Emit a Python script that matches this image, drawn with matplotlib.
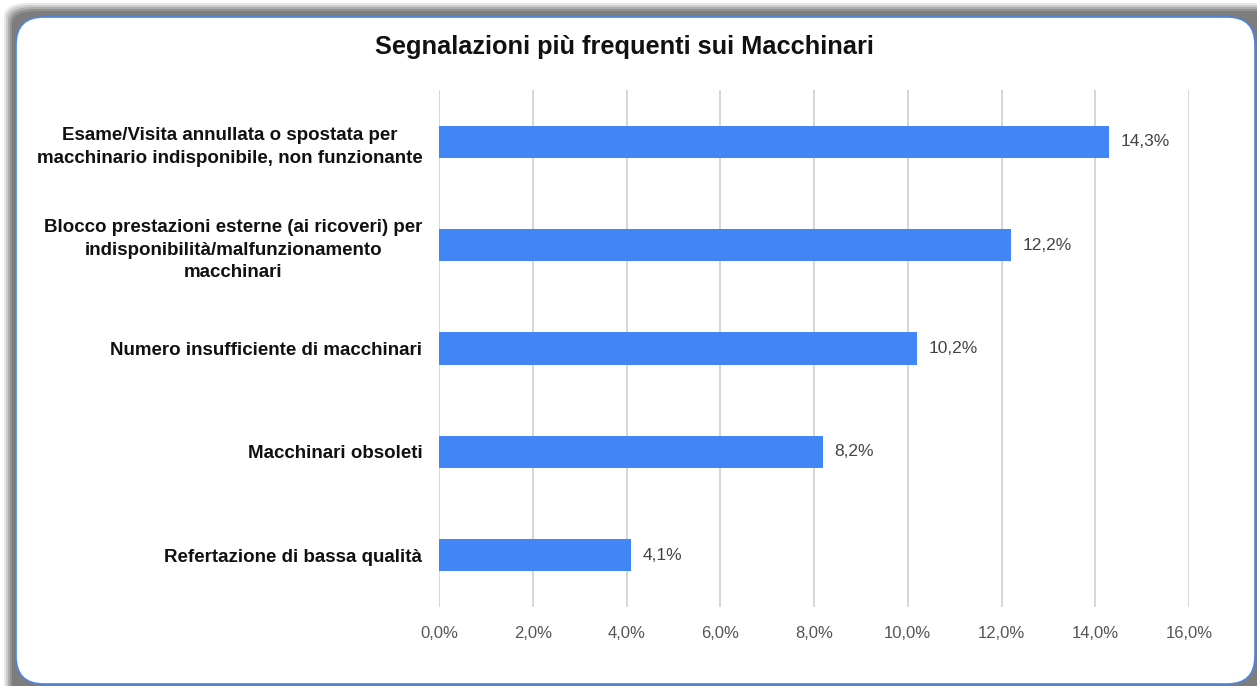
import matplotlib.pyplot as plt
from matplotlib.patches import FancyBboxPatch
from matplotlib.ticker import FuncFormatter

# dati
categorie = [
    "Esame/Visita annullata o spostata per\nmacchinario indisponibile, non funzionante",
    "Blocco prestazioni esterne (ai ricoveri) per\nindisponibilità/malfunzionamento\nmacchinari",
    "Numero insufficiente di macchinari",
    "Macchinari obsoleti",
    "Refertazione di bassa qualità",
]
valori = [14.3, 12.2, 10.2, 8.2, 4.1]
etichette = ["14,3%", "12,2%", "10,2%", "8,2%", "4,1%"]
tick_x = [0, 2, 4, 6, 8, 10, 12, 14, 16]

plt.rcParams["font.family"] = ["Liberation Sans", "DejaVu Sans"]

W, H = 1257, 686
fig = plt.figure(figsize=(W / 100, H / 100), dpi=100)
fig.patch.set_facecolor("white")

# ombra e cornice arrotondata
for i, a in enumerate([0.15, 0.22, 0.3, 0.4, 0.5]):
    off = 12 - i * 2
    sh = FancyBboxPatch(((16 - off) / W, -0.05), (W + 20) / W, (H - 15 + off) / H + 0.05,
                        boxstyle="round,pad=0,rounding_size=0.02",
                        transform=fig.transFigure, facecolor="#6a6a6a",
                        edgecolor="none", alpha=a, zorder=0)
    fig.patches.append(sh)
frame = FancyBboxPatch((16 / W, 2 / H), (W - 18) / W, (H - 17 - 2) / H,
                       boxstyle="round,pad=0,rounding_size=0.022",
                       transform=fig.transFigure, facecolor="white",
                       edgecolor="#4a86e8", linewidth=1.2, zorder=1,
                       mutation_aspect=W / H)
fig.patches.append(frame)

ax = fig.add_axes([439 / W, 1 - 607 / H, 750 / W, 517 / H])
ax.set_facecolor("none")
ax.set_zorder(2)

y = list(range(len(categorie)))
ax.barh(y, valori, height=0.31, color="#4285f4", zorder=3)
for yi, v, t in zip(y, valori, etichette):
    ax.text(v + 0.24, yi, t, va="center", ha="left", fontsize=12.5, color="#444444")

ax.set_xlim(0, 16)
ax.set_ylim(len(categorie) - 0.5, -0.5)
ax.set_xticks(tick_x)
ax.xaxis.set_major_formatter(FuncFormatter(lambda x, p: f"{x:.1f}%".replace(".", ",")))
ax.set_yticks(y)
ax.set_yticklabels(categorie, fontsize=13.5, fontweight="bold", color="#111111",
                   ha="right", multialignment="center", linespacing=1.45)
ax.tick_params(axis="x", length=0, labelsize=12, labelcolor="#555555", pad=14)
ax.tick_params(axis="y", length=0, pad=12)
ax.grid(axis="x", color="#d0d0d0", linewidth=1.2, zorder=0)
for s in ax.spines.values():
    s.set_visible(False)

fig.text(624 / W, 1 - 47 / H, "Segnalazioni più frequenti sui Macchinari",
         ha="center", va="center", fontsize=18.3, fontweight="bold", color="#111111")

fig.savefig("out.png", dpi=100)
